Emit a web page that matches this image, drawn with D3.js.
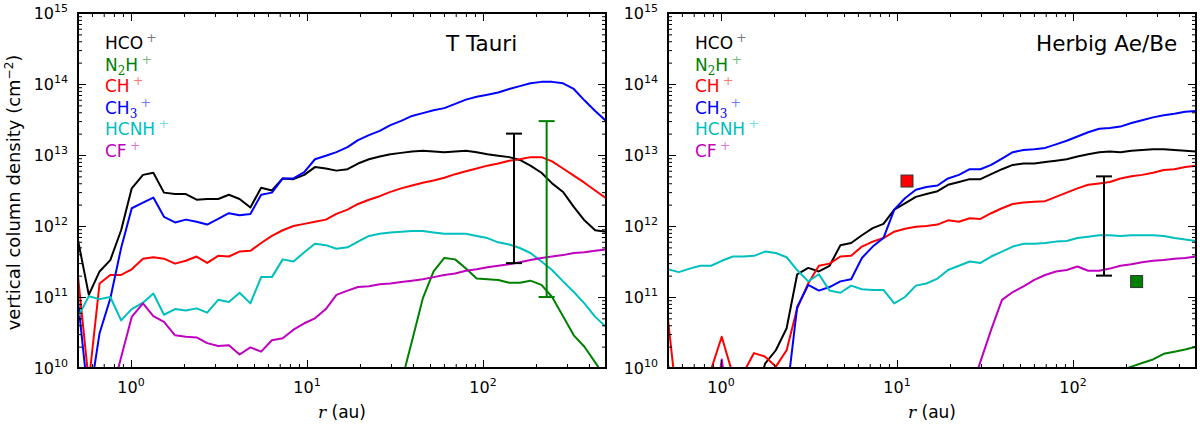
<!DOCTYPE html>
<html>
<head>
<meta charset="utf-8">
<script src="https://cdn.jsdelivr.net/npm/d3@7/dist/d3.min.js"></script>
<style>
  body { margin: 0; background: #fff; }
  svg text { font-family: "DejaVu Sans", sans-serif; }
</style>
</head>
<body>
<svg id="chart" width="1200" height="425"></svg>
<script>
// radial grid of the models (au)
var radius = [0.500, 0.576, 0.663, 0.763, 0.879, 1.01, 1.17, 1.34, 1.54, 1.78,
              2.05, 2.36, 2.71, 3.13, 3.60, 4.14, 4.77, 5.49, 6.32, 7.28,
              8.38, 9.65, 11.1, 12.8, 14.7, 17.0, 19.5, 22.5, 25.9, 29.8,
              34.3, 39.5, 45.5, 52.4, 60.3, 69.5, 80.0, 92.1, 106, 122,
              141, 162, 186, 215, 247, 285, 328, 377, 434, 500];

// species, legend order
var speciesNames  = ["HCO+", "N2H+", "CH+", "CH3+", "HCNH+", "CF+"];
var speciesColors = ["#000000", "#008000", "#ff0000", "#0000ff", "#00bfbf", "#bf00bf"];

// log10 vertical column density (cm^-2), T Tauri disk; null = not plotted
var ttHCO  = [11.80, 11.03, 11.36, 11.52, 11.94, 12.53, 12.72, 12.75, 12.47, 12.45,
              12.45, 12.37, 12.38, 12.38, 12.44, 12.38, 12.26, 12.54, 12.50, 12.67,
              12.66, 12.72, 12.83, 12.81, 12.78, 12.80, 12.88, 12.94, 12.98, 13.01,
              13.03, 13.05, 13.06, 13.05, 13.04, 13.05, 13.06, 13.04, 13.01, 12.99,
              12.97, 12.93, 12.85, 12.75, 12.60, 12.48, 12.27, 12.08, 11.94, 11.92];
var ttN2H  = [null, null, null, null, null, null, null, null, null, null,
              null, null, null, null, null, null, null, null, null, null,
              null, null, null, null, null, null, null, null, null, null,
              9.79, 10.38, 10.98, 11.36, 11.55, 11.53, 11.40, 11.26, 11.25, 11.24,
              11.20, 11.20, 11.23, 11.17, 11.00, 10.73, 10.46, 10.30, 10.08, 9.85];
var ttCH   = [11.29, 9.80, 11.19, 11.31, 11.31, 11.39, 11.54, 11.56, 11.54, 11.47,
              11.51, 11.57, 11.48, 11.58, 11.57, 11.64, 11.65, 11.76, 11.86, 11.94,
              12.00, 12.03, 12.06, 12.09, 12.17, 12.23, 12.31, 12.37, 12.42, 12.48,
              12.53, 12.57, 12.61, 12.64, 12.68, 12.73, 12.77, 12.81, 12.85, 12.88,
              12.92, 12.94, 12.97, 12.97, 12.91, 12.81, 12.71, 12.61, 12.50, 12.39];
var ttCH3  = [10.95, 9.50, 10.49, 10.98, 11.69, 12.25, 12.33, 12.40, 12.13, 12.05,
              12.09, 12.06, 12.02, 12.10, 12.18, 12.15, 12.17, 12.44, 12.47, 12.67,
              12.67, 12.76, 12.94, 12.99, 13.04, 13.11, 13.21, 13.28, 13.34, 13.42,
              13.48, 13.55, 13.59, 13.63, 13.66, 13.72, 13.78, 13.82, 13.85, 13.88,
              13.93, 13.97, 14.01, 14.03, 14.03, 14.01, 13.93, 13.77, 13.62, 13.48];
var ttHCNH = [10.72, 11.01, 10.97, 11.00, 10.67, 10.83, 10.92, 11.05, 10.75, 10.83,
              10.81, 10.84, 10.78, 10.96, 10.93, 11.06, 10.91, 11.28, 11.28, 11.53,
              11.50, 11.63, 11.75, 11.73, 11.68, 11.70, 11.78, 11.86, 11.89, 11.91,
              11.92, 11.93, 11.93, 11.91, 11.89, 11.89, 11.89, 11.86, 11.83, 11.77,
              11.74, 11.69, 11.62, 11.50, 11.38, 11.22, 11.07, 10.91, 10.72, 10.58];
var ttCF   = [null, null, null, 9.57, 10.15, 10.72, 10.91, 10.73, 10.65, 10.46,
              10.44, 10.43, 10.35, 10.31, 10.32, 10.19, 10.29, 10.23, 10.39, 10.42,
              10.54, 10.63, 10.70, 10.83, 11.03, 11.09, 11.14, 11.15, 11.18, 11.19,
              11.21, 11.23, 11.25, 11.28, 11.31, 11.33, 11.37, 11.39, 11.42, 11.44,
              11.46, 11.49, 11.52, 11.55, 11.57, 11.59, 11.62, 11.63, 11.65, 11.67];

// log10 vertical column density (cm^-2), Herbig Ae/Be disk
var haHCO  = [10.05, 9.00, null, null, null, null, null, null, 9.50, 10.06,
              10.25, 10.56, 11.32, 11.41, 11.36, 11.44, 11.73, 11.76, 11.87, 11.97,
              12.03, 12.23, 12.32, 12.41, 12.45, 12.49, 12.58, 12.62, 12.66, 12.66,
              12.73, 12.80, 12.86, 12.88, 12.88, 12.90, 12.92, 12.94, 12.98, 13.01,
              13.04, 13.05, 13.04, 13.06, 13.07, 13.08, 13.08, 13.07, 13.06, 13.05];
var haN2H  = [null, null, null, null, null, null, null, null, null, null,
              null, null, null, null, null, null, null, null, null, null,
              null, null, null, null, null, null, null, null, null, null,
              null, null, null, null, null, null, null, null, null, null,
              null, null, 9.96, 10.02, 10.07, 10.12, 10.20, 10.23, 10.26, 10.30];
var haCH   = [10.68, 9.30, null, null, 9.98, 10.44, 9.90, 9.93, 10.21, 10.16,
              10.02, 10.25, 10.84, 11.19, 11.44, 11.47, 11.57, 11.58, 11.71, 11.78,
              11.83, 11.92, 11.96, 11.99, 12.00, 12.02, 12.08, 12.06, 12.11, 12.10,
              12.18, 12.25, 12.31, 12.33, 12.34, 12.35, 12.41, 12.47, 12.53, 12.58,
              12.60, 12.62, 12.67, 12.70, 12.72, 12.75, 12.79, 12.80, 12.83, 12.85];
var haCH3  = [null, null, null, null, null, null, null, null, null, null,
              null, 9.60, 10.86, 11.17, 11.09, 11.14, 11.22, 11.25, 11.55, 11.71,
              11.83, 12.23, 12.39, 12.51, 12.55, 12.57, 12.67, 12.72, 12.80, 12.80,
              12.86, 12.95, 13.04, 13.07, 13.08, 13.10, 13.15, 13.20, 13.26, 13.32,
              13.37, 13.38, 13.40, 13.45, 13.49, 13.53, 13.56, 13.58, 13.61, 13.62];
var haHCNH = [11.39, 11.35, 11.40, 11.44, 11.44, 11.51, 11.57, 11.57, 11.58, 11.64,
              11.62, 11.56, 11.38, 11.22, 11.32, 11.09, 11.06, 11.16, 11.11, 11.10,
              11.10, 10.91, 11.00, 11.16, 11.19, 11.26, 11.38, 11.44, 11.50, 11.48,
              11.57, 11.64, 11.71, 11.75, 11.75, 11.76, 11.78, 11.79, 11.83, 11.85,
              11.87, 11.87, 11.86, 11.87, 11.87, 11.87, 11.86, 11.83, 11.81, 11.79];
var haCF   = [null, null, null, null, 9.00, 10.12, 9.00, null, null, null,
              null, null, null, null, null, null, null, null, null, null,
              null, null, null, null, null, null, null, null, 9.64, 10.09,
              10.54, 10.96, 11.07, 11.15, 11.24, 11.31, 11.36, 11.38, 11.43, 11.37,
              11.37, 11.40, 11.44, 11.46, 11.49, 11.51, 11.52, 11.54, 11.55, 11.57];

// observations: error bars (r, low, high) and points (r, N)
var ttBarR  = [150, 230];
var ttBarLo = [3e11, 1e11];
var ttBarHi = [2e13, 3e13];
var ttBarSpecies = [0, 1];
var haBarR  = [150];
var haBarLo = [2e11];
var haBarHi = [5e12];
var haBarSpecies = [0];
var haPointR = [11.4, 230];
var haPointN = [4.3e12, 1.65e11];
var haPointSpecies = [2, 1];

var rTicks = [1, 10, 100];
var nTicks = [1e10, 1e11, 1e12, 1e13, 1e14, 1e15];

// ---- layout ----
var W = 528, H = 355;
var svg = d3.select("#chart");

var x = d3.scaleLog().domain([0.5, 500]).range([0, W]);
var y = d3.scaleLog().domain([1e10, 1e15]).range([H, 0]);

var rMinor = [], nMinor = [];
[0.1, 1, 10, 100].forEach(function(d){
  for (var m = 2; m <= 9; m++){
    var v = m * d;
    if (v >= 0.5 && v <= 500) rMinor.push(v);
  }
});
[1e10, 1e11, 1e12, 1e13, 1e14].forEach(function(d){
  for (var m = 2; m <= 9; m++) nMinor.push(m * d);
});

function powLabel(t, base, exp){
  t.append("tspan").text(base);
  t.append("tspan").attr("dy", -7).attr("font-size", 11).text(exp);
}

function speciesLabel(t, name, color){
  // letters normal, digits as subscript, + as superscript
  var parts = name.match(/[A-Z]+|[0-9]|\+/g);
  var shift = 0;
  parts.forEach(function(p){
    var sp = t.append("tspan").attr("fill", color);
    if (/[0-9]/.test(p)){
      sp.attr("font-family", "DejaVu Serif").attr("font-size", 12)
        .attr("dy", 4 - shift).text(p);
      shift = 4;
    } else if (p == "+"){
      sp.attr("font-size", 13).attr("dx", 3).attr("dy", -7 - shift)
        .attr("fill-opacity", 0.55).text(p);
      shift = -7;
    } else {
      sp.attr("dy", -shift).text(p);
      shift = 0;
    }
  });
}

function drawPanel(x0, title, series, bars, points, showYTitle){
  var g = svg.append("g").attr("transform", "translate(" + x0 + ",13)");
  var clipId = "clip" + x0;
  g.append("defs").append("clipPath").attr("id", clipId)
    .append("rect").attr("width", W).attr("height", H);

  var plot = g.append("g").attr("clip-path", "url(#" + clipId + ")");
  var line = d3.line()
    .defined(function(d){ return d[1] != null; })
    .x(function(d){ return x(d[0]); })
    .y(function(d){ return y(Math.pow(10, d[1])); });

  series.forEach(function(s, i){
    var data = radius.map(function(r, k){ return [r, s[k]]; });
    plot.append("path")
      .datum(data)
      .attr("d", line)
      .attr("fill", "none")
      .attr("stroke", speciesColors[i])
      .attr("stroke-width", 2)
      .attr("stroke-linejoin", "round");
  });

  // error bars
  bars.r.forEach(function(r, i){
    var c = speciesColors[bars.sp[i]];
    var bx = x(r);
    var eb = plot.append("g").attr("stroke", c).attr("stroke-width", 2);
    eb.append("line").attr("x1", bx).attr("x2", bx)
      .attr("y1", y(bars.lo[i])).attr("y2", y(bars.hi[i]));
    [bars.lo[i], bars.hi[i]].forEach(function(v){
      eb.append("line").attr("x1", bx - 8).attr("x2", bx + 8)
        .attr("y1", y(v)).attr("y2", y(v));
    });
  });

  // observed points
  points.r.forEach(function(r, i){
    plot.append("rect")
      .attr("x", x(r) - 6).attr("y", y(points.n[i]) - 6)
      .attr("width", 12).attr("height", 12)
      .attr("fill", speciesColors[points.sp[i]])
      .attr("stroke", "#333").attr("stroke-width", 1);
  });

  // ticks on all four sides, pointing inwards
  function tickSet(axisFn, scale, vals, len, tr){
    g.append("g").attr("transform", tr)
      .call(axisFn(scale).tickValues(vals).tickSize(-len).tickFormat(""))
      .call(function(a){ a.select(".domain").remove(); })
      .selectAll("line").attr("stroke", "#000").attr("stroke-width", 1);
  }
  tickSet(d3.axisBottom, x, rTicks, 8, "translate(0," + H + ")");
  tickSet(d3.axisBottom, x, rMinor, 4, "translate(0," + H + ")");
  tickSet(d3.axisTop, x, rTicks, 8, "translate(0,0)");
  tickSet(d3.axisTop, x, rMinor, 4, "translate(0,0)");
  tickSet(d3.axisLeft, y, nTicks, 8, "translate(0,0)");
  tickSet(d3.axisLeft, y, nMinor, 4, "translate(0,0)");
  tickSet(d3.axisRight, y, nTicks, 8, "translate(" + W + ",0)");
  tickSet(d3.axisRight, y, nMinor, 4, "translate(" + W + ",0)");

  g.append("rect").attr("width", W).attr("height", H)
    .attr("fill", "none").attr("stroke", "#000").attr("stroke-width", 2);

  // tick labels
  rTicks.forEach(function(v){
    var t = g.append("text").attr("x", x(v)).attr("y", H + 25)
      .attr("text-anchor", "middle").attr("font-size", 16);
    powLabel(t, "10", Math.round(Math.log10(v)));
  });
  nTicks.forEach(function(v){
    var t = g.append("text").attr("x", -10).attr("y", y(v) + 6)
      .attr("text-anchor", "end").attr("font-size", 16);
    powLabel(t, "10", Math.round(Math.log10(v)));
  });

  // x title
  var xt = g.append("text").attr("x", W / 2).attr("y", H + 50)
    .attr("text-anchor", "middle").attr("font-size", 17);
  xt.append("tspan").attr("font-family", "DejaVu Serif")
    .attr("font-style", "italic").text("r");
  xt.append("tspan").text(" (au)");

  if (showYTitle){
    var yt = g.append("text")
      .attr("transform", "translate(-58," + (H / 2 + 2) + ") rotate(-90)")
      .attr("text-anchor", "middle").attr("font-size", 18);
    yt.append("tspan").text("vertical column density (cm");
    yt.append("tspan").attr("dy", -7).attr("font-size", 12).text("\u22122");
    yt.append("tspan").attr("dy", 7).text(")");
  }

  // panel title
  g.append("text").attr("x", 368).attr("y", 38)
    .attr("font-size", 21.5).text(title);

  // legend
  speciesNames.forEach(function(n, i){
    var t = g.append("text").attr("x", 27).attr("y", 36 + i * 21.5)
      .attr("font-size", 17);
    speciesLabel(t, n, speciesColors[i]);
  });
}

drawPanel(78, "T Tauri",
  [ttHCO, ttN2H, ttCH, ttCH3, ttHCNH, ttCF],
  {r: ttBarR, lo: ttBarLo, hi: ttBarHi, sp: ttBarSpecies},
  {r: [], n: [], sp: []}, true);

drawPanel(668, "Herbig Ae/Be",
  [haHCO, haN2H, haCH, haCH3, haHCNH, haCF],
  {r: haBarR, lo: haBarLo, hi: haBarHi, sp: haBarSpecies},
  {r: haPointR, n: haPointN, sp: haPointSpecies}, false);
</script>
</body>
</html>
